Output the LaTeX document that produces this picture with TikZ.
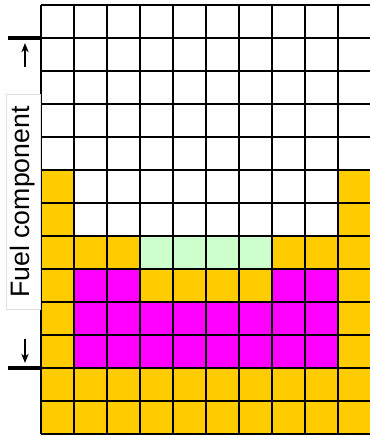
\documentclass[tikz,border=0pt]{standalone}
\usepackage{fontspec}
\setmainfont{Liberation Sans}
\usepackage{xcolor}
\usetikzlibrary{arrows.meta,positioning}

\definecolor{fuelorange}{HTML}{FFCC00}
\definecolor{fuelmagenta}{HTML}{FF00FF}
\definecolor{fuelgreen}{HTML}{CCFFCC}

\begin{document}
\begin{tikzpicture}[
  x=0.75pt, y=-0.75pt,
  orangecell/.style={fill=fuelorange},
  magentacell/.style={fill=fuelmagenta},
  greencell/.style={fill=fuelgreen},
  gridline/.style={draw=black, line width=1.1pt},
  marker/.style={draw=black, line width=2.6pt},
  arrow/.style={-{Stealth[length=7pt, width=5.5pt]}, line width=1pt},
  label/.style={draw=gray!25, fill=white, rotate=90, minimum width=161pt, minimum height=25.5pt,
    inner sep=0pt, font=\fontsize{20}{24}\selectfont}
]
  \useasboundingbox (0,0) rectangle (369,435);

  % coloured cells (col, row) -> (41+33*col, 5+33*row)
  \fill[orangecell] (41,170) rectangle ++(33,264);
  \fill[orangecell] (338,170) rectangle ++(33,264);
  \fill[orangecell] (41,368) rectangle ++(330,66);
  \fill[orangecell] (41,236) rectangle ++(99,33);
  \fill[orangecell] (272,236) rectangle ++(99,33);
  \fill[orangecell] (140,269) rectangle ++(132,33);
  \fill[greencell] (140,236) rectangle ++(132,33);
  \fill[magentacell] (74,269) rectangle ++(66,33);
  \fill[magentacell] (272,269) rectangle ++(66,33);
  \fill[magentacell] (74,302) rectangle ++(264,66);

  % grid
  \foreach \c in {0,...,10}
    \draw[gridline] (41+33*\c,5) -- (41+33*\c,434);
  \foreach \r in {0,...,13}
    \draw[gridline] (41,5+33*\r) -- (371,5+33*\r);

  % fuel component marker
  \node[label] (fuel) at (23,202) {Fuel component};

  \coordinate (topleft) at (8,38);
  \coordinate (topright) at (41,38);
  \coordinate (botleft) at (8,368);
  \coordinate (botright) at (41,368);
  \draw[marker] (topleft) -- (topright);
  \draw[marker] (botleft) -- (botright);

  \coordinate (uptail) at (25,67);
  \coordinate (uphead) at (25,43);
  \coordinate (downtail) at (25,339);
  \coordinate (downhead) at (25,363);
  \draw[arrow] (uptail) -- (uphead);
  \draw[arrow] (downtail) -- (downhead);
\end{tikzpicture}
\end{document}
